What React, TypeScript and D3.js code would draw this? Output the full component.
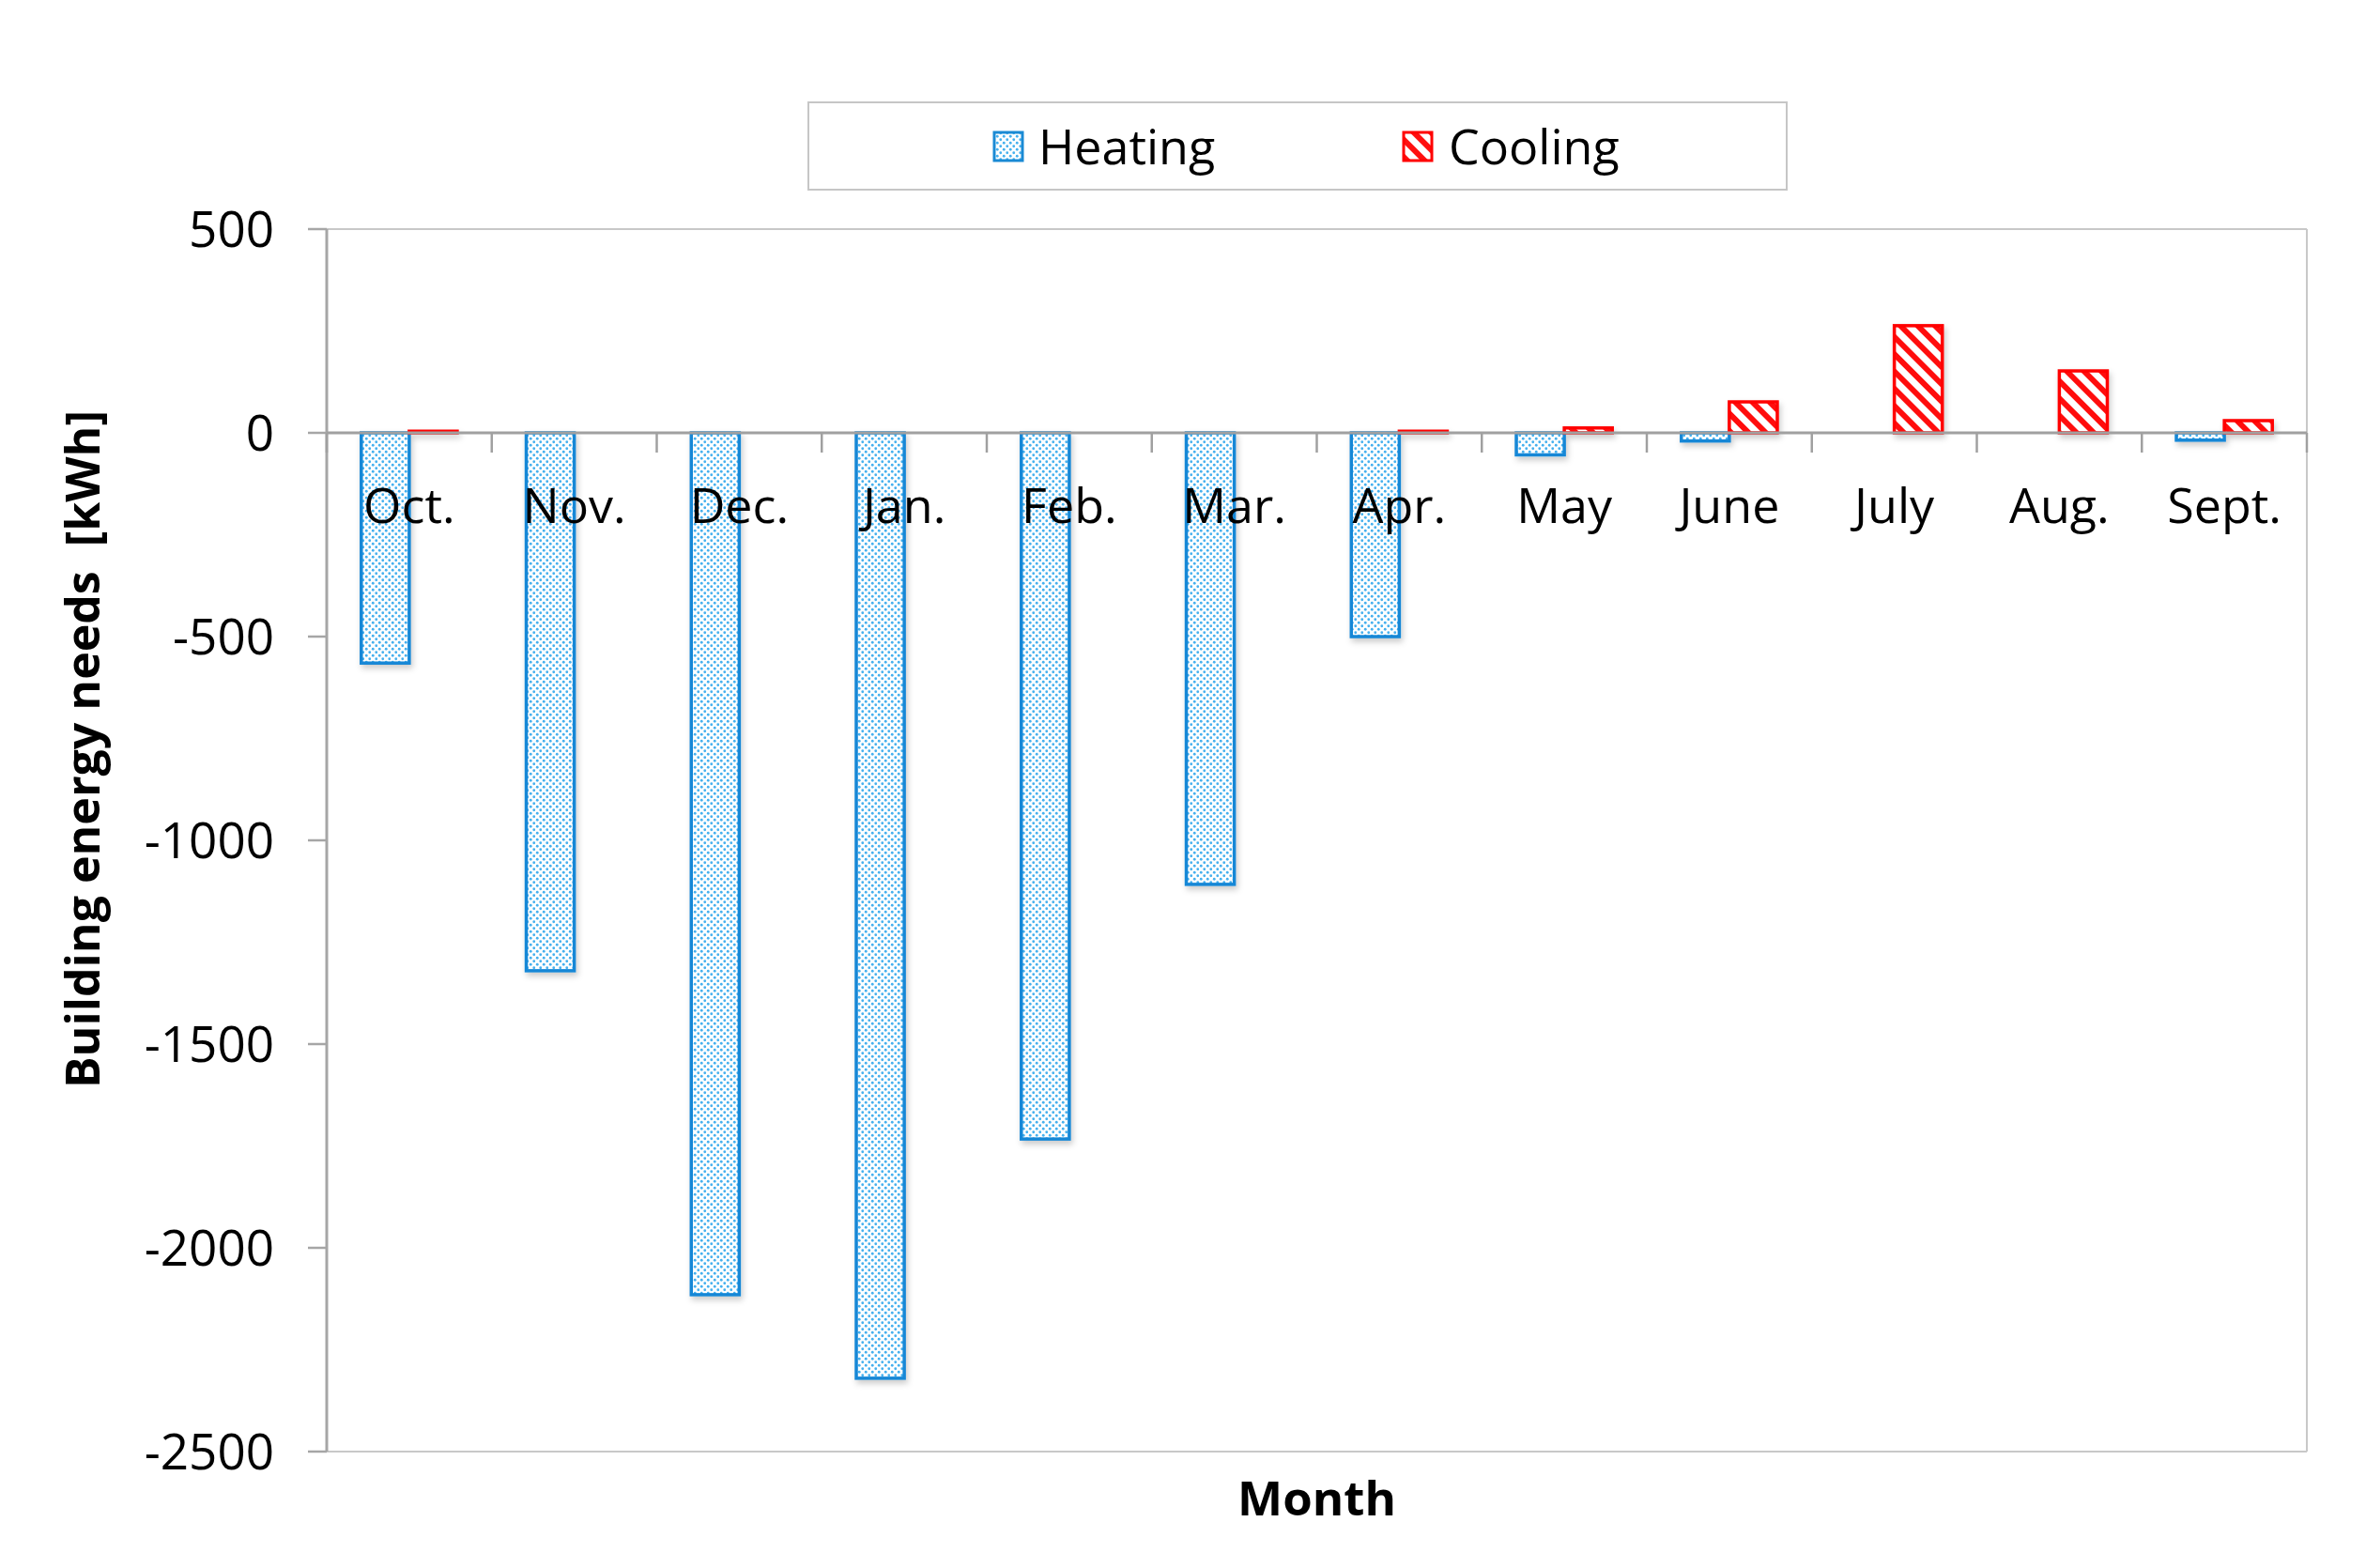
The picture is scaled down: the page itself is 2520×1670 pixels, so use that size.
import React from "react";
import * as d3 from "d3";

const months = ["Oct.", "Nov.", "Dec.", "Jan.", "Feb.", "Mar.", "Apr.", "May", "June", "July", "Aug.", "Sept."];
const heating = [-565, -1320, -2115, -2320, -1733, -1108, -500, -54, -20, 0, 0, -18];
const cooling = [4, 0, 0, 0, 0, 0, 4, 12, 76, 263, 152, 30];
const seriesNames = ["Heating", "Cooling"];
const yTicks = [500, 0, -500, -1000, -1500, -2000, -2500];

const W = 2520;
const H = 1670;
const FONT = "'Open Sans', 'Liberation Sans', sans-serif";

export default function App() {
  const left = 348, right = 2457, top = 244, bottom = 1546;
  const y = d3.scaleLinear().domain([-2500, 500]).range([bottom, top]);
  const x0 = d3.scaleBand<string>().domain(months).range([left, right]).paddingInner(0).paddingOuter(0);
  const x1 = d3.scaleBand<string>().domain(seriesNames).range([0, x0.bandwidth()]).paddingInner(0).paddingOuter(0.72);
  const y0 = y(0);
  const boundaries = d3.range(months.length + 1).map((i) => left + i * x0.step());

  const barRect = (v: number) => ({ y: Math.min(y(v), y0), h: Math.abs(y(v) - y0) });

  return (
    <svg width={W} height={H} style={{ position: "absolute", left: 0, top: 0, background: "#fff" }} fontFamily={FONT}>
      <defs>
        <pattern id="dots" width="7" height="7" patternUnits="userSpaceOnUse">
          <rect width="7" height="7" fill="#ffffff" />
          <circle cx="1.75" cy="1.75" r="1.4" fill="#45b0ee" />
          <circle cx="5.25" cy="5.25" r="1.4" fill="#45b0ee" />
        </pattern>
        <pattern id="hatch" width="13" height="13" patternUnits="userSpaceOnUse" patternTransform="rotate(-45)">
          <rect width="13" height="13" fill="#ffffff" />
          <rect x="0" y="0" width="6" height="13" fill="#ff1010" />
        </pattern>
        <filter id="shadow" x="-20%" y="-20%" width="140%" height="140%">
          <feDropShadow dx="2" dy="4" stdDeviation="3" floodColor="#000" floodOpacity="0.2" />
        </filter>
      </defs>

      {/* Legend */}
      <rect x={861} y={109} width={1042} height={93} fill="#fff" stroke="#c6c6c6" strokeWidth={2} />
      <rect x={1059} y={141} width={30} height={30} fill="url(#dots)" stroke="#1a8ad4" strokeWidth={3} />
      <text x={1106} y={175} fontSize={52} fill="#000">Heating</text>
      <rect x={1495} y={141} width={30} height={30} fill="url(#hatch)" stroke="#ff0000" strokeWidth={3} />
      <text x={1543} y={175} fontSize={52} fill="#000">Cooling</text>

      {/* plot frame */}
      <line x1={left} x2={right} y1={top} y2={top} stroke="#c8c8c8" strokeWidth={2} />
      <line x1={right} x2={right} y1={top} y2={bottom} stroke="#c8c8c8" strokeWidth={2} />
      <line x1={left} x2={right} y1={bottom} y2={bottom} stroke="#c8c8c8" strokeWidth={2} />

      {/* y axis */}
      <line x1={left} x2={left} y1={top} y2={bottom} stroke="#a6a6a6" strokeWidth={3} />
      {yTicks.map((t) => (
        <g key={t}>
          <line x1={left - 20} x2={left} y1={y(t)} y2={y(t)} stroke="#a6a6a6" strokeWidth={2.5} />
          <text x={292} y={y(t)} dy="0.36em" textAnchor="end" fontSize={53} fill="#000">
            {t}
          </text>
        </g>
      ))}

      {/* bars */}
      <g filter="url(#shadow)">
        {months.map((m, i) => {
          const hr = barRect(heating[i]);
          const cr = barRect(cooling[i]);
          const bw = x1.bandwidth();
          return (
            <g key={m}>
              {heating[i] !== 0 && (
                <rect x={(x0(m) as number) + (x1("Heating") as number)} y={hr.y} width={bw} height={hr.h}
                  fill="url(#dots)" stroke="#1587d6" strokeWidth={3.5} />
              )}
              {cooling[i] !== 0 && (
                <rect x={(x0(m) as number) + (x1("Cooling") as number)} y={cr.y} width={bw} height={cr.h}
                  fill="url(#hatch)" stroke="#ff0000" strokeWidth={3.5} />
              )}
            </g>
          );
        })}
      </g>

      {/* zero line and x ticks */}
      <line x1={left} x2={right} y1={y0} y2={y0} stroke="#a0a0a0" strokeWidth={3} />
      {boundaries.map((bx, i) => (
        <line key={i} x1={bx} x2={bx} y1={y0} y2={y0 + 21} stroke="#a0a0a0" strokeWidth={2.5} />
      ))}

      {/* month labels */}
      {months.map((m) => (
        <text key={m} x={(x0(m) as number) + x0.bandwidth() / 2} y={557} textAnchor="middle" fontSize={52} fill="#000">
          {m}
        </text>
      ))}

      {/* axis titles */}
      <text x={(left + right) / 2} y={1614} textAnchor="middle" fontSize={51} fontWeight="bold" fill="#000">
        Month
      </text>
      <text transform="translate(106,798) rotate(-90)" textAnchor="middle" fontSize={50} fontWeight="bold" fill="#000" style={{ whiteSpace: "pre" }}>
        {"Building energy needs  [kWh]"}
      </text>
    </svg>
  );
}
